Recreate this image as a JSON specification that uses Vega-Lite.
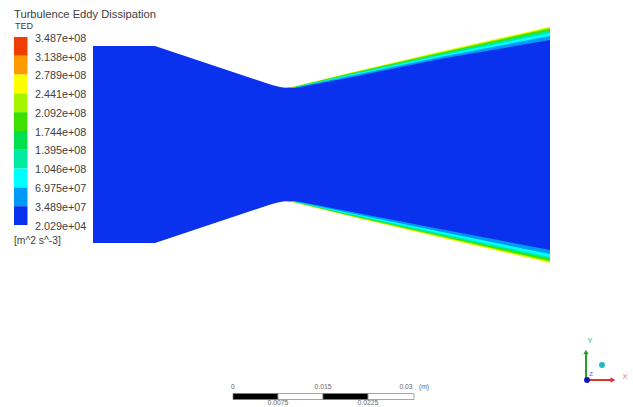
{"$schema":"https://vega.github.io/schema/vega-lite/v6.json","width":633,"height":407,"padding":0,"autosize":{"type":"fit","contains":"padding"},"background":"white","config":{"view":{"stroke":null}},
"datasets":{
"flow":[
{"level":"2.789e+08","x":285,"top":88,"bottom":201},{"level":"2.789e+08","x":295,"top":86.3,"bottom":202.7},{"level":"2.789e+08","x":350,"top":72.7,"bottom":216.3},{"level":"2.789e+08","x":440,"top":51.6,"bottom":237.4},{"level":"2.789e+08","x":550,"top":26.6,"bottom":263},
{"level":"2.441e+08","x":285,"top":88,"bottom":201},{"level":"2.441e+08","x":295,"top":86.5,"bottom":202.5},{"level":"2.441e+08","x":350,"top":73,"bottom":216},{"level":"2.441e+08","x":440,"top":52.2,"bottom":236.8},{"level":"2.441e+08","x":550,"top":27.5,"bottom":262},
{"level":"2.092e+08","x":285,"top":88,"bottom":201},{"level":"2.092e+08","x":295,"top":86.7,"bottom":202.3},{"level":"2.092e+08","x":350,"top":73.5,"bottom":215.5},{"level":"2.092e+08","x":440,"top":53,"bottom":236},{"level":"2.092e+08","x":550,"top":28.5,"bottom":261},
{"level":"1.395e+08","x":285,"top":88,"bottom":201},{"level":"1.395e+08","x":295,"top":87,"bottom":202},{"level":"1.395e+08","x":350,"top":74,"bottom":215},{"level":"1.395e+08","x":440,"top":54,"bottom":235},{"level":"1.395e+08","x":550,"top":30.5,"bottom":259},
{"level":"1.046e+08","x":285,"top":88,"bottom":201},{"level":"1.046e+08","x":295,"top":87.2,"bottom":201.8},{"level":"1.046e+08","x":350,"top":75,"bottom":214},{"level":"1.046e+08","x":440,"top":55.5,"bottom":233.5},{"level":"1.046e+08","x":550,"top":33,"bottom":257},
{"level":"6.975e+07","x":285,"top":88,"bottom":201},{"level":"6.975e+07","x":295,"top":87.5,"bottom":201.5},{"level":"6.975e+07","x":350,"top":76,"bottom":213},{"level":"6.975e+07","x":440,"top":57,"bottom":231.5},{"level":"6.975e+07","x":550,"top":36,"bottom":254},
{"level":"3.489e+07","x":93,"top":46,"bottom":243},{"level":"3.489e+07","x":155,"top":46,"bottom":243},{"level":"3.489e+07","x":260,"top":81,"bottom":208},{"level":"3.489e+07","x":272,"top":85,"bottom":204},{"level":"3.489e+07","x":280,"top":87,"bottom":202},{"level":"3.489e+07","x":287,"top":88,"bottom":201},{"level":"3.489e+07","x":295,"top":88,"bottom":201},{"level":"3.489e+07","x":350,"top":77.5,"bottom":211.5},{"level":"3.489e+07","x":440,"top":59,"bottom":229},{"level":"3.489e+07","x":550,"top":40,"bottom":250}
],
"bar":[
{"level":"3.487e+08","x":14,"x2":27.5,"y":37,"y2":55.8},{"level":"3.138e+08","x":14,"x2":27.5,"y":55.8,"y2":74.6},{"level":"2.789e+08","x":14,"x2":27.5,"y":74.6,"y2":93.4},{"level":"2.441e+08","x":14,"x2":27.5,"y":93.4,"y2":112.2},{"level":"2.092e+08","x":14,"x2":27.5,"y":112.2,"y2":131},{"level":"1.744e+08","x":14,"x2":27.5,"y":131,"y2":149.8},{"level":"1.395e+08","x":14,"x2":27.5,"y":149.8,"y2":168.6},{"level":"1.046e+08","x":14,"x2":27.5,"y":168.6,"y2":187.4},{"level":"6.975e+07","x":14,"x2":27.5,"y":187.4,"y2":206.2},{"level":"3.489e+07","x":14,"x2":27.5,"y":206.2,"y2":225}
],
"labels":[
{"t":"3.487e+08","y":38.5},{"t":"3.138e+08","y":57.5},{"t":"2.789e+08","y":76},{"t":"2.441e+08","y":95},{"t":"2.092e+08","y":113.5},{"t":"1.744e+08","y":132.5},{"t":"1.395e+08","y":151},{"t":"1.046e+08","y":170},{"t":"6.975e+07","y":188.5},{"t":"3.489e+07","y":207.5},{"t":"2.029e+04","y":227}
],
"scale":[
{"x":233,"x2":278,"part":"dark"},{"x":278,"x2":323,"part":"light"},{"x":323,"x2":368,"part":"dark"},{"x":368,"x2":414,"part":"light"}
],
"scaleLabels":[
{"t":"0","x":233,"y":387},{"t":"0.015","x":323,"y":387},{"t":"0.03","x":406,"y":387},{"t":"(m)","x":424,"y":387},{"t":"0.0075","x":278,"y":403},{"t":"0.0225","x":368,"y":403}
]
},
"layer":[
{"data":{"name":"flow"},"mark":{"type":"area","interpolate":"linear","orient":"vertical"},"encoding":{"x":{"field":"x","type":"quantitative","scale":{"domain":[0,633],"nice":false,"zero":false},"axis":null},"y":{"field":"top","type":"quantitative","scale":{"domain":[407,0],"nice":false,"zero":false},"axis":null},"y2":{"field":"bottom"},"color":{"field":"level","type":"nominal","legend":null,"scale":{"domain":["3.487e+08","3.138e+08","2.789e+08","2.441e+08","2.092e+08","1.744e+08","1.395e+08","1.046e+08","6.975e+07","3.489e+07"],"range":["#f03c05","#ff9a00","#ffff00","#a6f500","#3ee000","#00e04c","#00eba0","#00ffff","#0099f5","#0a32ee"]}}}},
{"data":{"name":"bar"},"mark":{"type":"rect"},"encoding":{"x":{"field":"x","type":"quantitative"},"x2":{"field":"x2"},"y":{"field":"y","type":"quantitative"},"y2":{"field":"y2"},"color":{"field":"level","type":"nominal","legend":null}}},
{"data":{"name":"labels"},"mark":{"type":"text","align":"left","baseline":"middle","font":"Liberation Sans","fontSize":10.8,"color":"#404040"},"encoding":{"x":{"datum":35,"type":"quantitative"},"y":{"field":"y","type":"quantitative"},"text":{"field":"t"}}},
{"data":{"values":[{"t":"Turbulence Eddy Dissipation","y":15}]},"mark":{"type":"text","align":"left","baseline":"middle","font":"Liberation Sans","fontSize":11.2,"color":"#404040"},"encoding":{"x":{"datum":14,"type":"quantitative"},"y":{"field":"y","type":"quantitative"},"text":{"field":"t"}}},
{"data":{"values":[{"t":"TED","y":26}]},"mark":{"type":"text","align":"left","baseline":"middle","font":"Liberation Sans","fontSize":9,"color":"#404040"},"encoding":{"x":{"datum":15,"type":"quantitative"},"y":{"field":"y","type":"quantitative"},"text":{"field":"t"}}},
{"data":{"values":[{"t":"[m^2 s^-3]","y":240.5}]},"mark":{"type":"text","align":"left","baseline":"middle","font":"Liberation Sans","fontSize":10.3,"color":"#404040"},"encoding":{"x":{"datum":14,"type":"quantitative"},"y":{"field":"y","type":"quantitative"},"text":{"field":"t"}}},
{"data":{"name":"scale"},"mark":{"type":"rect","stroke":"#808080","strokeWidth":0.7},"encoding":{"x":{"field":"x","type":"quantitative"},"x2":{"field":"x2"},"y":{"datum":393.5,"type":"quantitative"},"y2":{"datum":399.5},"fill":{"field":"part","type":"nominal","legend":null,"scale":{"domain":["dark","light"],"range":["#000000","#ffffff"]}}}},
{"data":{"name":"scaleLabels"},"mark":{"type":"text","align":"center","baseline":"middle","font":"Liberation Sans","fontSize":6.8,"color":"#666666"},"encoding":{"x":{"field":"x","type":"quantitative"},"y":{"field":"y","type":"quantitative"},"text":{"field":"t"}}},
{"data":{"values":[{"x":586,"y":381,"y2":353}]},"mark":{"type":"rule","color":"#22a02a","strokeWidth":2},"encoding":{"x":{"field":"x","type":"quantitative"},"y":{"field":"y","type":"quantitative"},"y2":{"field":"y2"}}},
{"data":{"values":[{"x":586,"y":352}]},"mark":{"type":"point","shape":"triangle-up","filled":true,"size":30,"opacity":1,"color":"#22a02a"},"encoding":{"x":{"field":"x","type":"quantitative"},"y":{"field":"y","type":"quantitative"}}},
{"data":{"values":[{"x":587,"x2":612,"y":380}]},"mark":{"type":"rule","color":"#e03030","strokeWidth":2},"encoding":{"x":{"field":"x","type":"quantitative"},"x2":{"field":"x2"},"y":{"field":"y","type":"quantitative"}}},
{"data":{"values":[{"x":613,"y":380}]},"mark":{"type":"point","shape":"triangle-right","filled":true,"size":30,"opacity":1,"color":"#e03030"},"encoding":{"x":{"field":"x","type":"quantitative"},"y":{"field":"y","type":"quantitative"}}},
{"data":{"values":[{"x":587,"y":380}]},"mark":{"type":"point","shape":"circle","filled":true,"size":35,"opacity":1,"color":"#1010c0"},"encoding":{"x":{"field":"x","type":"quantitative"},"y":{"field":"y","type":"quantitative"}}},
{"data":{"values":[{"x":602,"y":365}]},"mark":{"type":"point","shape":"circle","filled":true,"size":35,"opacity":1,"color":"#20b8c8"},"encoding":{"x":{"field":"x","type":"quantitative"},"y":{"field":"y","type":"quantitative"}}},
{"data":{"values":[{"t":"Y","x":590,"y":341}]},"mark":{"type":"text","font":"Liberation Sans","fontSize":7.5,"color":"#50a060"},"encoding":{"x":{"field":"x","type":"quantitative"},"y":{"field":"y","type":"quantitative"},"text":{"field":"t"}}},
{"data":{"values":[{"t":"X","x":625,"y":377}]},"mark":{"type":"text","font":"Liberation Sans","fontSize":7.5,"color":"#e08080"},"encoding":{"x":{"field":"x","type":"quantitative"},"y":{"field":"y","type":"quantitative"},"text":{"field":"t"}}},
{"data":{"values":[{"t":"Z","x":591,"y":374}]},"mark":{"type":"text","font":"Liberation Sans","fontSize":6,"color":"#6060c0"},"encoding":{"x":{"field":"x","type":"quantitative"},"y":{"field":"y","type":"quantitative"},"text":{"field":"t"}}}
]}
